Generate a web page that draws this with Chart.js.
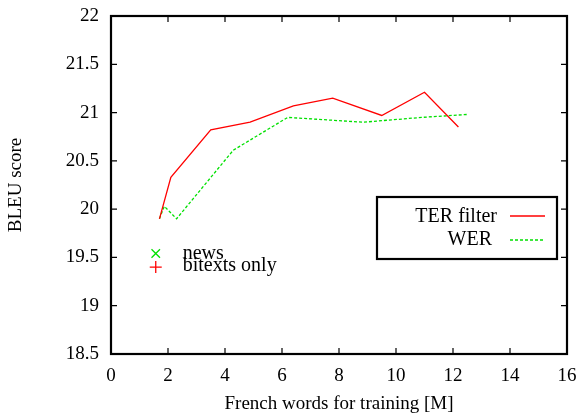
<!DOCTYPE html>
<html>
<head>
<meta charset="utf-8">
<script src="https://cdn.jsdelivr.net/npm/chart.js@4/dist/chart.umd.min.js"></script>
<style>
  html, body { margin: 0; padding: 0; background: #fff; }
  #wrap { width: 581px; height: 415px; }
</style>
</head>
<body>
<div id="wrap"><canvas id="c"></canvas></div>
<script>
// values
const terX = [1.70, 2.10, 3.50, 4.88, 6.40, 7.78, 9.50, 11.00, 12.19];
const terY = [19.90, 20.33, 20.82, 20.90, 21.07, 21.15, 20.97, 21.21, 20.85];
const werX = [1.70, 1.87, 2.30, 4.29, 6.20, 7.80, 8.85, 10.90, 12.48];
const werY = [19.90, 20.03, 19.90, 20.61, 20.95, 20.92, 20.90, 20.95, 20.98];
const newsPt = [1.57, 19.54];
const bitextPt = [1.57, 19.40];
const xTicks = [0, 2, 4, 6, 8, 10, 12, 14, 16];
const yTicks = [18.5, 19, 19.5, 20, 20.5, 21, 21.5, 22];

const FONT = 'Liberation Serif';
const toPts = (xs, ys) => xs.map((x, i) => ({ x: x, y: ys[i] }));

// gnuplot style frame, inward ticks on all sides, key box and point labels
const framePlugin = {
  id: 'frame',
  afterDatasetsDraw(chart) {
    const ctx = chart.ctx, a = chart.chartArea;
    const xs = chart.scales.x, ys = chart.scales.y;
    ctx.save();
    ctx.strokeStyle = '#000';
    ctx.lineWidth = 1.2;
    ctx.beginPath();
    xTicks.forEach(v => {
      const px = xs.getPixelForValue(v);
      ctx.moveTo(px, a.bottom); ctx.lineTo(px, a.bottom - 6);
      ctx.moveTo(px, a.top); ctx.lineTo(px, a.top + 6);
    });
    yTicks.forEach(v => {
      const py = ys.getPixelForValue(v);
      ctx.moveTo(a.left, py); ctx.lineTo(a.left + 6, py);
      ctx.moveTo(a.right, py); ctx.lineTo(a.right - 6, py);
    });
    ctx.stroke();
    ctx.lineWidth = 2.2;
    ctx.strokeRect(a.left, a.top, a.right - a.left, a.bottom - a.top);

    // key box
    ctx.lineWidth = 2.2;
    ctx.strokeRect(377, 197, 180, 62);
    ctx.font = '20px "' + FONT + '"';
    ctx.fillStyle = '#000';
    ctx.textAlign = 'right';
    ctx.textBaseline = 'middle';
    ctx.fillText('TER filter', 497, 217);
    ctx.fillText('WER', 492, 240);
    ctx.lineWidth = 1.3;
    ctx.strokeStyle = '#ff0000';
    ctx.beginPath(); ctx.moveTo(510, 216); ctx.lineTo(545, 216); ctx.stroke();
    ctx.strokeStyle = '#00e000';
    ctx.setLineDash([3, 2]);
    ctx.beginPath(); ctx.moveTo(510, 240); ctx.lineTo(545, 240); ctx.stroke();
    ctx.setLineDash([]);

    // labels beside the two lone points
    ctx.textAlign = 'left';
    ctx.textBaseline = 'alphabetic';
    ctx.fillText('news', xs.getPixelForValue(newsPt[0]) + 27, ys.getPixelForValue(newsPt[1]) + 5);
    ctx.fillText('bitexts only', xs.getPixelForValue(bitextPt[0]) + 27, ys.getPixelForValue(bitextPt[1]) + 4);
    ctx.restore();
  }
};

new Chart(document.getElementById('c'), {
  type: 'scatter',
  data: {
    datasets: [
      { label: 'TER filter', data: toPts(terX, terY), showLine: true, borderColor: '#ff0000',
        borderWidth: 1.3, pointRadius: 0, fill: false },
      { label: 'WER', data: toPts(werX, werY), showLine: true, borderColor: '#00e000',
        borderWidth: 1.3, borderDash: [3, 2], pointRadius: 0, fill: false },
      { label: 'news', data: [{ x: newsPt[0], y: newsPt[1] }], pointStyle: 'crossRot',
        pointRadius: 6, borderColor: '#00e000', borderWidth: 1.3 },
      { label: 'bitexts only', data: [{ x: bitextPt[0], y: bitextPt[1] }], pointStyle: 'cross',
        pointRadius: 6, borderColor: '#ff0000', borderWidth: 1.3 }
    ]
  },
  options: {
    responsive: true,
    maintainAspectRatio: false,
    animation: false,
    layout: { padding: { top: 16, right: 14, left: 0, bottom: 0 } },
    plugins: { legend: { display: false }, tooltip: { enabled: false } },
    scales: {
      x: {
        type: 'linear', min: 0, max: 16,
        afterBuildTicks: s => { s.ticks = xTicks.map(v => ({ value: v })); },
        afterFit: s => { s.height = 61; s.paddingLeft = 0; s.paddingRight = 0; },
        grid: { display: false, drawTicks: false },
        border: { display: false },
        ticks: { color: '#000', padding: 11, maxRotation: 0, callback: v => String(v),
          font: { family: FONT, size: 19 } },
        title: { display: true, text: 'French words for training [M]', color: '#000',
          padding: { top: 0, bottom: 0 }, font: { family: FONT, size: 19 } }
      },
      y: {
        type: 'linear', min: 18.5, max: 22,
        afterBuildTicks: s => { s.ticks = yTicks.map(v => ({ value: v })); },
        afterFit: s => { s.width = 111; s.paddingTop = 0; s.paddingBottom = 0; },
        grid: { display: false, drawTicks: false },
        border: { display: false },
        ticks: { color: '#000', padding: 12, callback: v => String(v),
          font: { family: FONT, size: 19 } },
        title: { display: true, text: 'BLEU score', color: '#000',
          padding: { top: 5, bottom: 0 }, font: { family: FONT, size: 19 } }
      }
    }
  },
  plugins: [framePlugin]
});
</script>
</body>
</html>
